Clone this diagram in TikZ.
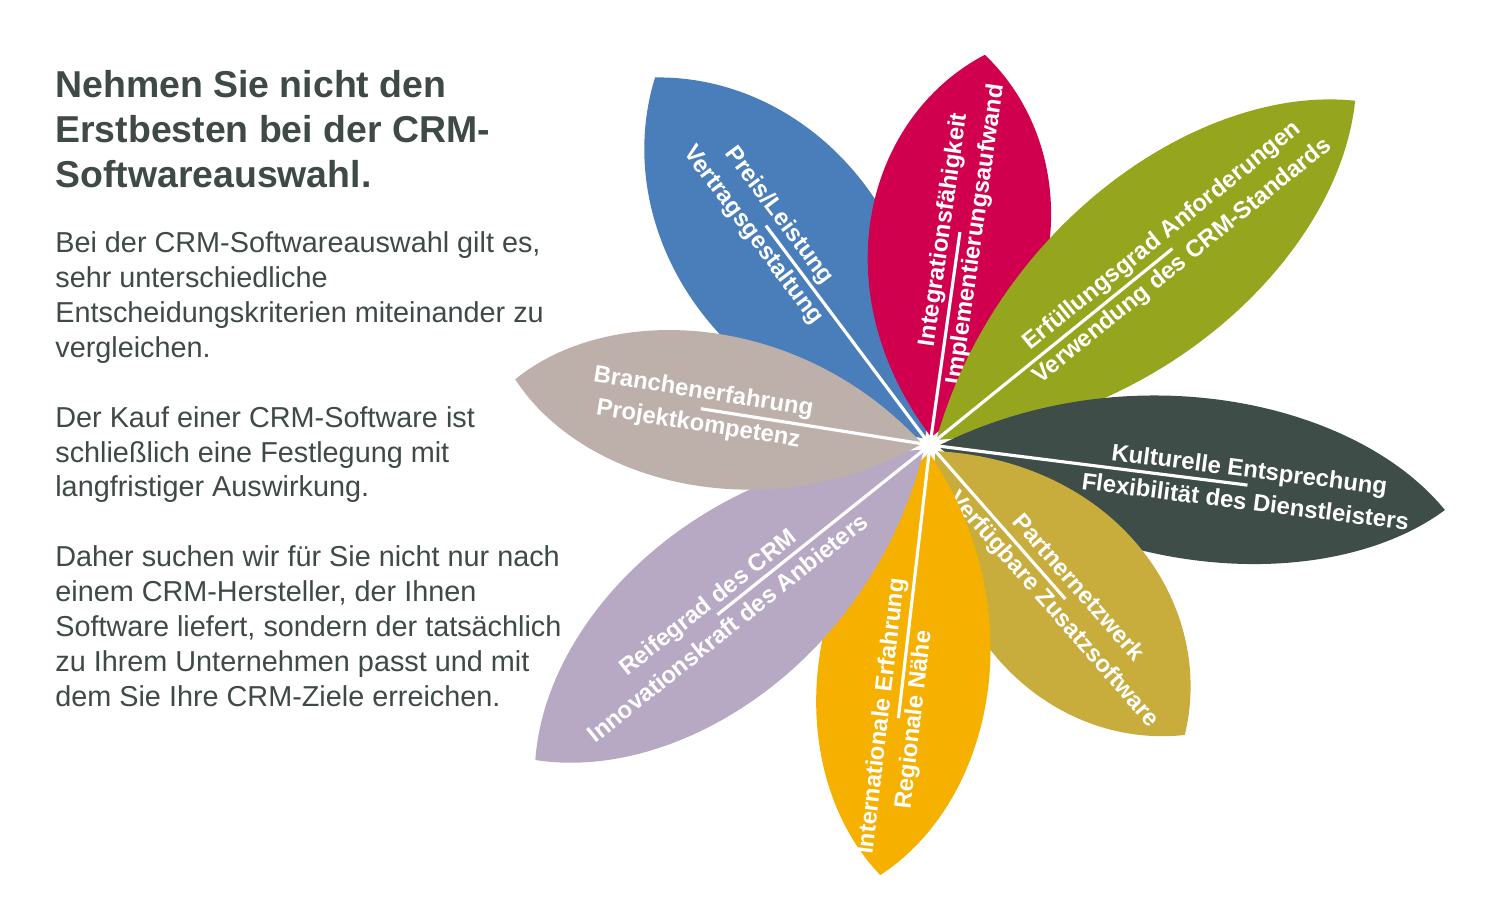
\documentclass[tikz,border=0pt]{standalone}
\usepackage{fontspec}
\setmainfont{Liberation Sans}
\definecolor{dgrey}{HTML}{3F4A47}
\definecolor{lblue}{HTML}{4A7EBB}
\definecolor{lred}{HTML}{D1004F}
\definecolor{lgreen}{HTML}{95A51D}
\definecolor{lslate}{HTML}{3F4D49}
\definecolor{lmustard}{HTML}{C8AC3C}
\definecolor{lorange}{HTML}{F5B000}
\definecolor{llilac}{HTML}{B7A9C4}
\definecolor{ltaupe}{HTML}{BDB0AA}
% leaf: colour, angle, length, half width, text distance, text flip, name, text
\newcommand\leaf[8]{%
  \begin{scope}[shift={(930,467)}, rotate=#2]
    \fill[#1] (8,0) .. controls (0.35*#3,1.3*#4) and (0.8*#3,1.1*#4) .. (#3,0)
      .. controls (0.8*#3,-1.1*#4) and (0.35*#3,-1.3*#4) .. cycle;
    \draw[midline] (6,0) -- (#5,0);
    \node[leaftext, transform shape, rotate=#6] (#7) at (#5,0) {#8};
  \end{scope}}
\tikzset{
  midline/.style={white, line width=1.8pt},
  leaftext/.style={text=white, font=\fontsize{13.6}{18.5}\selectfont\bfseries, align=center, inner sep=0pt}
}
\begin{document}
\begin{tikzpicture}[x=0.02cm, y=0.02cm]
  \useasboundingbox (0,0) rectangle (1500,912);
  \fill[white] (0,0) rectangle (1500,912);
  % petals
  \leaf{lblue}{126.8}{459}{115}{274}{180}{price}{Preis/Leistung\\Vertragsgestaltung}
  \leaf{lred}{82}{394}{100}{215}{0}{integ}{Integrationsfähigkeit\\Implementierungsaufwand}
  \leaf{lgreen}{39}{547}{100}{312}{0}{fulfil}{Erfüllungsgrad Anforderungen\\Verwendung des CRM-Standards}
  \leaf{lslate}{-7.2}{519}{90}{320}{0}{culture}{Kulturelle Entsprechung\\Flexibilität des Dienstleisters}
  \leaf{lmustard}{-48.7}{386}{100}{205}{0}{partner}{Partnernetzwerk\\Verfügbare Zusatzsoftware}
  \leaf{lorange}{-96.6}{433}{95}{275}{180}{intl}{Internationale Erfahrung\\Regionale Nähe}
  \leaf{llilac}{-141.4}{505}{100}{272}{180}{mature}{Reifegrad des CRM\\Innovationskraft des Anbieters}
  \leaf{ltaupe}{171}{420}{85}{232}{180}{branch}{Branchenerfahrung\\Projektkompetenz}
  % left text
  \node[anchor=north west, align=left, text=dgrey, inner sep=0pt,
        font=\fontsize{21.3}{25.5}\selectfont\bfseries] (title) at (55,842)
    {Nehmen Sie nicht den\\Erstbesten bei der CRM-\\Softwareauswahl.};
  \node[anchor=north west, align=left, text=dgrey, inner sep=0pt,
        font=\fontsize{16.4}{19.9}\selectfont] (body) at (55,681)
    {Bei der CRM-Softwareauswahl gilt es,\\sehr unterschiedliche\\Entscheidungskriterien miteinander zu\\vergleichen.\\[19.9pt]
     Der Kauf einer CRM-Software ist\\schließlich eine Festlegung mit\\langfristiger Auswirkung.\\[19.9pt]
     Daher suchen wir für Sie nicht nur nach\\einem CRM-Hersteller, der Ihnen\\Software liefert, sondern der tatsächlich\\zu Ihrem Unternehmen passt und mit\\dem Sie Ihre CRM-Ziele erreichen.};
\end{tikzpicture}
\end{document}
